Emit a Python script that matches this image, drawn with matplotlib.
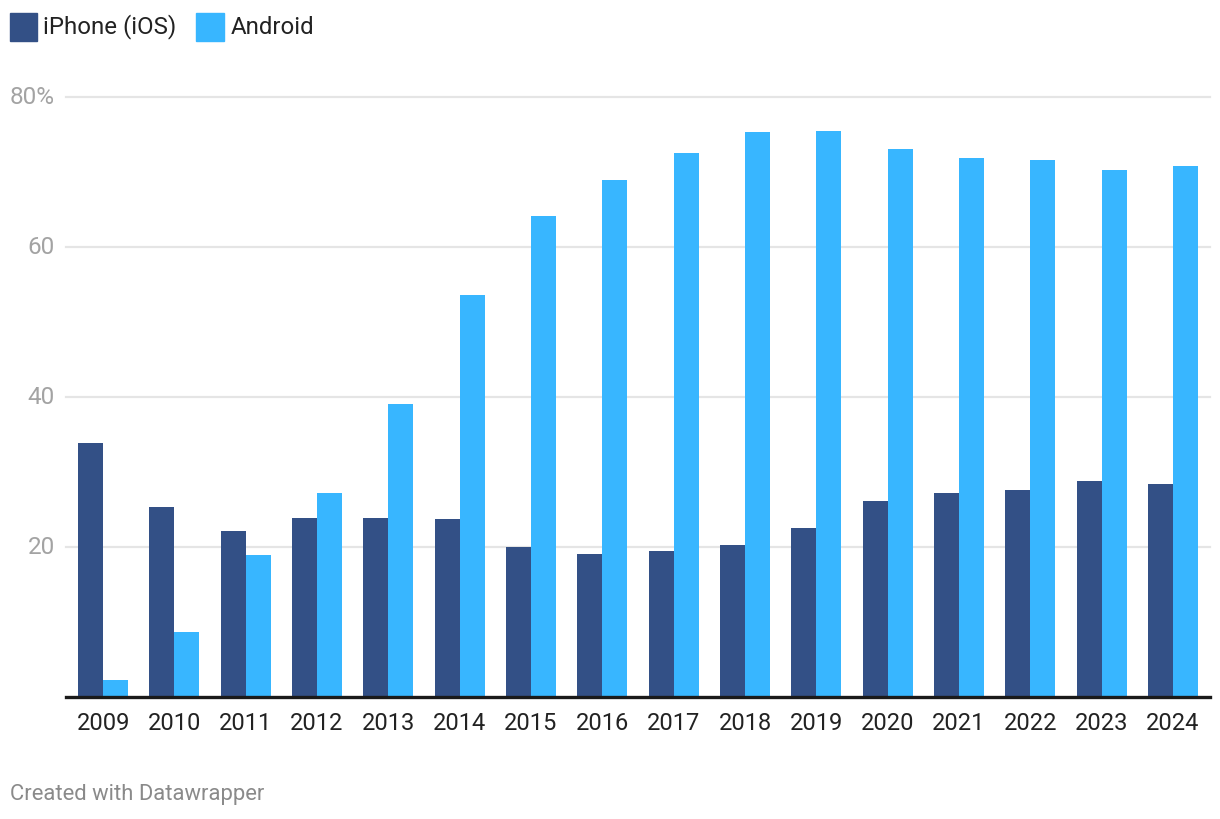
import numpy as np
import matplotlib
matplotlib.use("Agg")
import matplotlib.pyplot as plt
from matplotlib.patches import Rectangle

plt.rcParams['font.family'] = ['Roboto', 'DejaVu Sans']

years = ['2009', '2010', '2011', '2012', '2013', '2014', '2015', '2016',
         '2017', '2018', '2019', '2020', '2021', '2022', '2023', '2024']
ios = [33.9, 25.4, 22.2, 23.9, 23.9, 23.8, 20.0, 19.1,
       19.5, 20.3, 22.6, 26.2, 27.2, 27.6, 28.8, 28.4]
android = [2.3, 8.7, 18.9, 27.2, 39.1, 53.6, 64.1, 69.0,
           72.5, 75.3, 75.5, 73.1, 71.9, 71.6, 70.3, 70.8]
yticks = [20, 40, 60, 80]
ytick_labels = ['20', '40', '60', '80%']

c_ios = '#335086'
c_android = '#38b6ff'

W, H = 1220, 820
fig = plt.figure(figsize=(W / 100, H / 100), dpi=100)
ax = fig.add_axes([66 / W, 1 - 698 / H, (1210 - 66) / W, (698 - 98) / H])

x = np.arange(len(years))
bw = 0.35
ax.bar(x - bw / 2, ios, bw, color=c_ios, zorder=3)
ax.bar(x + bw / 2, android, bw, color=c_android, zorder=3)

ax.set_xlim(-0.52, len(years) - 1 + 0.52)
ax.set_ylim(0, 80)

for v in yticks:
    ax.axhline(v, color='#e5e5e5', lw=1.6, zorder=1, clip_on=False)
ax.axhline(0, color='#1a1a1a', lw=2.4, zorder=4, clip_on=False)

for s in ax.spines.values():
    s.set_visible(False)
ax.tick_params(length=0)
ax.set_yticks([])
ax.set_xticks(x)
ax.set_xticklabels(years, fontsize=17, color='#222222')
ax.tick_params(axis='x', pad=10)

for v, lab in zip(yticks, ytick_labels):
    fig.text(55 / W, 1 - (698 - v * 600 / 80) / H, lab, ha='right', va='center',
             fontsize=17.5, color='#a3a3a3')

# legend
fig.patches.append(Rectangle((10 / W, 1 - 42 / H), 27 / W, 28 / H,
                             transform=fig.transFigure, color=c_ios))
fig.text(43 / W, 1 - 27 / H, 'iPhone (iOS)', fontsize=17.3, color='#222222', va='center')
fig.patches.append(Rectangle((196 / W, 1 - 42 / H), 28 / W, 28 / H,
                             transform=fig.transFigure, color=c_android))
fig.text(231 / W, 1 - 27 / H, 'Android', fontsize=17.3, color='#222222', va='center')

fig.text(10 / W, 1 - 795 / H, 'Created with Datawrapper', fontsize=15.8,
         color='#8a8a8a', va='center')

fig.savefig('out.png', dpi=100, facecolor='white')
